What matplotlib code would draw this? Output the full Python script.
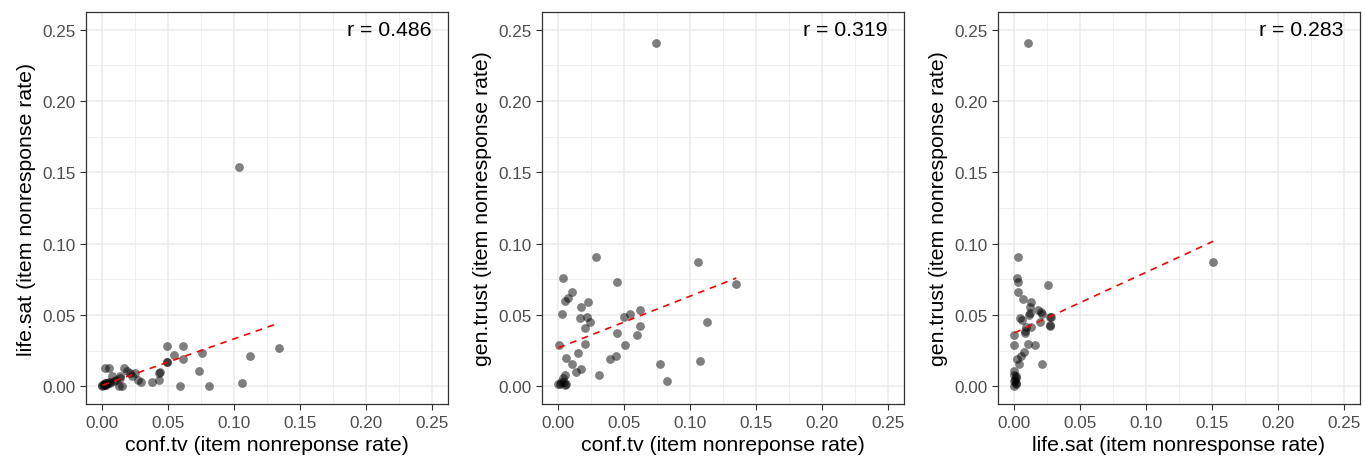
import numpy as np
import matplotlib
matplotlib.use("Agg")
import matplotlib.pyplot as plt

plt.rcParams['font.family'] = ['Liberation Sans', 'DejaVu Sans']

# panel 1: conf.tv vs life.sat
conf_tv_1 = [0.104, 0.049, 0.061, 0.054, 0.049, 0.061, 0.076, 0.073, 0.112, 0.134,
             0.106, 0.081, 0.059, 0.043, 0.043, 0.038, 0.029, 0.016, 0.0185, 0.021,
             0.0225, 0.025, 0.027, 0.005, 0.002, 0.007, 0.0135, 0.0085, 0.0148, 0.0122,
             0.010, 0.013, 0.000, 0.001, 0.002, 0.003, 0.004, 0.005, 0.001, 0.002,
             0.000, 0.003, 0.006, 0.0435, 0.0493]
life_sat_1 = [0.154, 0.028, 0.028, 0.022, 0.017, 0.019, 0.023, 0.011, 0.021, 0.027,
              0.002, 0.000, 0.000, 0.0095, 0.004, 0.0026, 0.003, 0.013, 0.011, 0.009,
              0.007, 0.009, 0.004, 0.013, 0.013, 0.007, 0.007, 0.0037, 0.0002, 0.000,
              0.004, 0.0055, 0.001, 0.0015, 0.001, 0.002, 0.0025, 0.003, 0.0005, 0.002,
              0.000, 0.001, 0.002, 0.0096, 0.0173]

# panel 2: conf.tv vs gen.trust
conf_tv_2 = [0.0738, 0.0285, 0.1059, 0.0035, 0.0441, 0.1351, 0.0103, 0.0073, 0.0053, 0.0223,
             0.0173, 0.0028, 0.016, 0.0218, 0.0243, 0.0205, 0.0498, 0.0543, 0.0623, 0.0616,
             0.0598, 0.0441, 0.0503, 0.1128, 0.0005, 0.0198, 0.006, 0.0148, 0.0103, 0.0135,
             0.0168, 0.039, 0.0435, 0.031, 0.0773, 0.1074, 0.0823, 0.0053, 0.0035, 0.001,
             0.0048, 0.000, 0.006, 0.002, 0.004]
gen_trust_2 = [0.2409, 0.0904, 0.0873, 0.0756, 0.0728, 0.0716, 0.0662, 0.0618, 0.060, 0.0592,
               0.0557, 0.0506, 0.0475, 0.0482, 0.0447, 0.0407, 0.0482, 0.0506, 0.0536, 0.0424,
               0.0358, 0.037, 0.0288, 0.0452, 0.029, 0.0295, 0.0201, 0.0232, 0.0159, 0.010,
               0.0119, 0.019, 0.0213, 0.0077, 0.0159, 0.0178, 0.0037, 0.0077, 0.0054, 0.0014,
               0.0007, 0.0014, 0.0014, 0.0026, 0.0030]

# panel 3: life.sat vs gen.trust
life_sat_3 = [0.0103, 0.151, 0.0025, 0.0017, 0.0025, 0.0258, 0.003, 0.0068, 0.0125, 0.0118,
              0.0182, 0.0208, 0.027, 0.027, 0.0193, 0.0113, 0.0043, 0.0055, 0.0088, 0.0083,
              0.000, 0.000, 0.010, 0.0158, 0.0213, 0.007, 0.005, 0.0017, 0.0032, 0.000,
              0.000, 0.0013, 0.000, 0.000, 0.0118, 0.02, 0.0276, 0.0268, 0.0125, 0.0083,
              0.0005, 0.001, 0.0008, 0.0012]
gen_trust_3 = [0.2407, 0.087, 0.0904, 0.0756, 0.0728, 0.0711, 0.0662, 0.061, 0.0592, 0.0553,
               0.0536, 0.0506, 0.0487, 0.0424, 0.0452, 0.0499, 0.0478, 0.0466, 0.0412, 0.037,
               0.0358, 0.0288, 0.0295, 0.0288, 0.0159, 0.0237, 0.0213, 0.0194, 0.0159, 0.0107,
               0.0077, 0.0072, 0.0037, 0.0002, 0.0513, 0.0517, 0.0482, 0.0428, 0.0412, 0.0388,
               0.0045, 0.0025, 0.0015, 0.0060]

r_labels = ['r = 0.486', 'r = 0.319', 'r = 0.283']
x_titles = ['conf.tv (item nonreponse rate)', 'conf.tv (item nonreponse rate)',
            'life.sat (item nonresponse rate)']
y_titles = ['life.sat (item nonresponse rate)', 'gen.trust (item nonresponse rate)',
            'gen.trust (item nonresponse rate)']
ticks = [0.00, 0.05, 0.10, 0.15, 0.20, 0.25]

panels = [(conf_tv_1, life_sat_1), (conf_tv_2, gen_trust_2), (life_sat_3, gen_trust_3)]
lefts = [86, 542, 998]

fig = plt.figure(figsize=(13.65, 4.6), dpi=100)
for i, (xs, ys) in enumerate(panels):
    ax = fig.add_axes([lefts[i] / 1365, 55 / 460, 362 / 1365, 392 / 460])
    xs = np.array(xs)
    ys = np.array(ys)
    ax.set_xlim(-0.0125, 0.2625)
    ax.set_ylim(-0.0125, 0.2625)
    ax.set_xticks(ticks)
    ax.set_yticks(ticks)
    ax.set_xticks(np.arange(0.025, 0.26, 0.05), minor=True)
    ax.set_yticks(np.arange(0.025, 0.26, 0.05), minor=True)
    ax.set_xticklabels(['%.2f' % t for t in ticks])
    ax.set_yticklabels(['%.2f' % t for t in ticks])
    ax.grid(True, which='major', color='#EBEBEB', linewidth=1.1)
    ax.grid(True, which='minor', color='#EBEBEB', linewidth=0.55)
    ax.set_axisbelow(True)
    ax.tick_params(which='minor', length=0)
    ax.tick_params(which='major', length=4.3, width=0.8, color='#333333',
                   labelsize=12.3, labelcolor='#4D4D4D', pad=3.5)
    for s in ax.spines.values():
        s.set_color('#333333')
        s.set_linewidth(0.9)
    ax.scatter(xs, ys, s=40, color='black', alpha=0.5, linewidths=0, zorder=3)
    b, a = np.polyfit(xs, ys, 1)
    xl = np.array([xs.min(), xs.max()])
    ax.plot(xl, a + b * xl, color='red', linestyle=(0, (4, 3.5)), linewidth=1.2, zorder=4)
    ax.text(0.25, 0.25, r_labels[i], ha='right', va='center', fontsize=15.3, color='black')
    ax.set_xlabel(x_titles[i], fontsize=15.3, labelpad=4)
    ax.set_ylabel(y_titles[i], fontsize=15.3, labelpad=4)

fig.savefig('out.png', dpi=100)
